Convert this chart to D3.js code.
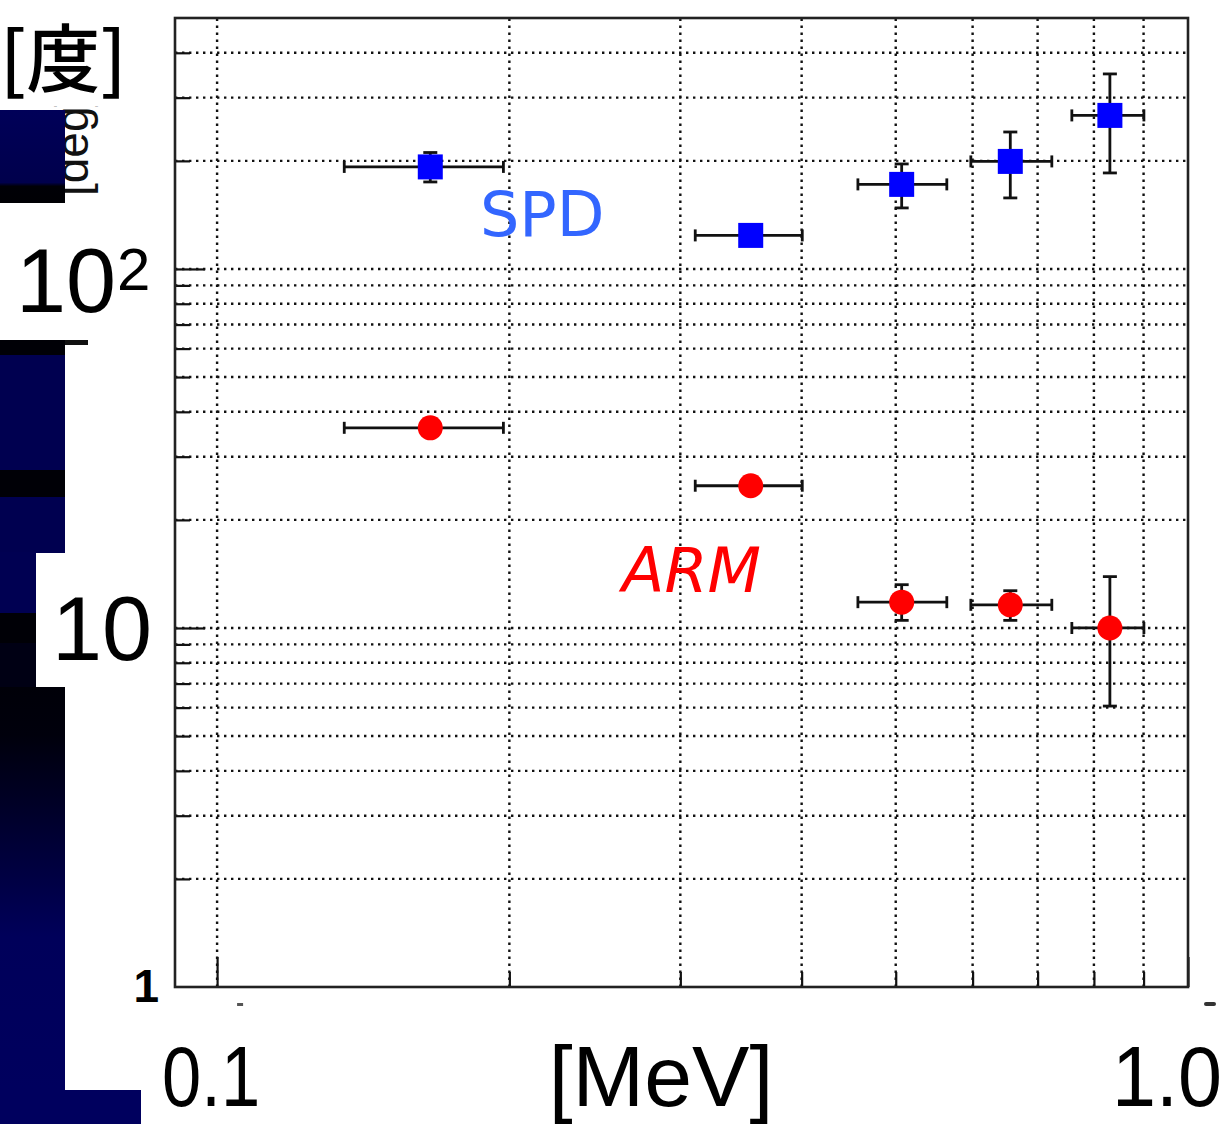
<!DOCTYPE html>
<html>
<head>
<meta charset="utf-8">
<script src="https://cdn.jsdelivr.net/npm/d3@7"></script>
<style>
  body { margin: 0; background: #fff; }
</style>
</head>
<body>
<div id="chart"></div>
<script>
// energy bins [MeV] shared by both series
const energy   = [0.1658, 0.3545, 0.5071, 0.6561, 0.8309];
const energyLo = [0.1352, 0.3108, 0.4571, 0.5975, 0.7592];
const energyHi = [0.1972, 0.4006, 0.5644, 0.7240, 0.9007];

// SPD [deg]
const spd   = [192.4, 124.0, 172.0, 199.3, 267.7];
const spdLo = [174.7, 124.0, 147.9, 157.7, 185.1];
const spdHi = [211.0, 124.0, 196.1, 240.7, 349.3];

// ARM [deg]
const arm   = [36.1, 24.9, 11.8, 11.6, 10.0];
const armLo = [36.1, 24.9, 10.5, 10.5, 6.06];
const armHi = [36.1, 24.9, 13.2, 12.7, 13.9];

const xTicks = [0.1, 0.2, 0.3, 0.4, 0.5, 0.6, 0.7, 0.8, 0.9, 1.0];
const xGrid = [0.1, 0.2, 0.3, 0.4, 0.5, 0.6, 0.7, 0.8, 0.9];
const yTicks = [2, 3, 4, 5, 6, 7, 8, 9, 10, 20, 30, 40, 50, 60, 70, 80, 90, 100, 200, 300, 400];
const yGrid = yTicks;

const W = 1224, H = 1124;
const frame = {left: 175, right: 1188, top: 18, bottom: 987};

const svg = d3.select("#chart").append("svg")
    .attr("width", W)
    .attr("height", H);

svg.append("rect").attr("width", W).attr("height", H).attr("fill", "#fff");

const x = d3.scaleLog()
    .domain([0.0905, 1.0])
    .range([frame.left, frame.right]);
const y = d3.scaleLog()
    .domain([1, 500])
    .range([frame.bottom, frame.top]);

const isMajor = d => Math.abs(Math.log10(d) - Math.round(Math.log10(d))) < 1e-6;

// dotted grid
const grid = svg.append("g")
    .attr("stroke", "#111")
    .attr("stroke-width", 2.4)
    .attr("stroke-dasharray", "2.4,4.6");
grid.selectAll(".gx").data(xGrid).join("line")
    .attr("x1", d => x(d)).attr("x2", d => x(d))
    .attr("y1", frame.bottom).attr("y2", frame.top);
grid.selectAll(".gy").data(yGrid).join("line")
    .attr("x1", frame.left).attr("x2", frame.right)
    .attr("y1", d => y(d)).attr("y2", d => y(d));

// ticks (inward), minor and major
function tickAxis(axis, values, size, transform) {
    const g = svg.append("g")
        .attr("transform", transform)
        .call(axis.tickValues(values).tickSize(-size).tickFormat(""));
    g.select(".domain").remove();
    g.selectAll(".tick line").attr("stroke", "#111").attr("stroke-width", 2.2);
}
tickAxis(d3.axisBottom(x), xTicks.filter(d => !isMajor(d)), 15, `translate(0,${frame.bottom})`);
tickAxis(d3.axisBottom(x), xTicks.filter(isMajor), 30, `translate(0,${frame.bottom})`);
tickAxis(d3.axisLeft(y), yTicks.filter(d => !isMajor(d)), 15, `translate(${frame.left},0)`);
tickAxis(d3.axisLeft(y), yTicks.filter(isMajor), 30, `translate(${frame.left},0)`);

// frame
svg.append("rect")
    .attr("x", frame.left).attr("y", frame.top)
    .attr("width", frame.right - frame.left)
    .attr("height", frame.bottom - frame.top)
    .attr("fill", "none")
    .attr("stroke", "#222")
    .attr("stroke-width", 2.6);

// error bars + markers
function series(vals, lo, hi, color, shape) {
    const data = energy.map((e, i) => ({e: e, elo: energyLo[i], ehi: energyHi[i], v: vals[i], lo: lo[i], hi: hi[i]}));
    const g = svg.append("g").attr("stroke", "#111").attr("stroke-width", 2.8);
    g.selectAll(".xe").data(data).join("line")
        .attr("x1", d => x(d.elo)).attr("x2", d => x(d.ehi))
        .attr("y1", d => y(d.v)).attr("y2", d => y(d.v));
    g.selectAll(".xc").data(data.flatMap(d => [{e: d.elo, v: d.v}, {e: d.ehi, v: d.v}])).join("line")
        .attr("x1", d => x(d.e)).attr("x2", d => x(d.e))
        .attr("y1", d => y(d.v) - 6).attr("y2", d => y(d.v) + 6);
    const ye = data.filter(d => d.hi > d.lo);
    g.selectAll(".ye").data(ye).join("line")
        .attr("x1", d => x(d.e)).attr("x2", d => x(d.e))
        .attr("y1", d => y(d.lo)).attr("y2", d => y(d.hi));
    g.selectAll(".yc").data(ye.flatMap(d => [{e: d.e, v: d.lo}, {e: d.e, v: d.hi}])).join("line")
        .attr("x1", d => x(d.e) - 7).attr("x2", d => x(d.e) + 7)
        .attr("y1", d => y(d.v)).attr("y2", d => y(d.v));

    if (shape == "square") {
        svg.append("g").selectAll("rect").data(data).join("rect")
            .attr("x", d => x(d.e) - 12.5).attr("y", d => y(d.v) - 12.5)
            .attr("width", 25).attr("height", 25)
            .attr("fill", color);
    } else {
        svg.append("g").selectAll("circle").data(data).join("circle")
            .attr("cx", d => x(d.e)).attr("cy", d => y(d.v))
            .attr("r", 12.5)
            .attr("fill", color);
    }
}
series(spd, spdLo, spdHi, "#0000ff", "square");
series(arm, armLo, armHi, "#ff0000", "circle");

// series labels
svg.append("text")
    .attr("x", 480).attr("y", 236)
    .attr("font-family", "DejaVu Sans").attr("font-size", 62)
    .attr("fill", "#3366ff")
    .text("SPD");
svg.append("text")
    .attr("x", 622).attr("y", 592)
    .attr("font-family", "DejaVu Sans").attr("font-size", 62)
    .attr("font-style", "italic")
    .attr("fill", "#ff0000")
    .text("ARM");

// leftover ROOT y title, mostly hidden
svg.append("text")
    .attr("transform", "translate(88,196) rotate(-90)")
    .attr("font-family", "Liberation Sans, Arial, sans-serif").attr("font-size", 46)
    .attr("fill", "#111")
    .text("[deg]");
svg.append("rect").attr("x", 0).attr("y", 0).attr("width", 170).attr("height", 106).attr("fill", "#fff");

// tiny remnants of the original x labels
svg.append("rect").attr("x", x(0.1) + 20).attr("y", 1003).attr("width", 6).attr("height", 3).attr("fill", "#555");
svg.append("rect").attr("x", x(1.0) + 16).attr("y", 1002).attr("width", 12).attr("height", 4).attr("rx", 2).attr("fill", "#333");

// big overlay labels
const font = "Liberation Sans, Arial, Helvetica, sans-serif";
svg.append("text")
    .attr("x", 0).attr("y", 86)
    .attr("font-family", "Noto Sans CJK JP").attr("font-size", 74).attr("font-weight", 500)
    .attr("fill", "#000")
    .text("[度]");

svg.append("text")
    .attr("x", 116).attr("y", y(100) + 43)
    .attr("text-anchor", "end")
    .attr("font-family", font).attr("font-size", 90)
    .text("10");
svg.append("text")
    .attr("x", 117).attr("y", y(100) + 21)
    .attr("font-family", font).attr("font-size", 60)
    .text("2");
svg.append("text")
    .attr("x", 152).attr("y", y(10) + 32)
    .attr("text-anchor", "end")
    .attr("font-family", font).attr("font-size", 90)
    .text("10");
svg.append("text")
    .attr("x", 159).attr("y", y(1) + 15)
    .attr("text-anchor", "end")
    .attr("font-family", font).attr("font-size", 46).attr("font-weight", "bold")
    .text("1");

function bottomLabel(cx, txt, sx) {
    svg.append("text")
        .attr("transform", `translate(${cx},1106) scale(${sx},1)`)
        .attr("text-anchor", "middle")
        .attr("font-family", font).attr("font-size", 86)
        .text(txt);
}
bottomLabel(x(0.1) - 6, "0.1", 0.82);
bottomLabel(661, "[MeV]", 1.0);
bottomLabel(x(1.0) - 21, "1.0", 0.92);

// slide background strips on the left
const defs = svg.append("defs");
const g1 = defs.append("linearGradient").attr("id", "fadeTop").attr("x1", 0).attr("y1", 0).attr("x2", 0).attr("y2", 1);
g1.append("stop").attr("offset", "0%").attr("stop-color", "#000058");
g1.append("stop").attr("offset", "78%").attr("stop-color", "#00004c");
g1.append("stop").attr("offset", "82%").attr("stop-color", "#000006");
g1.append("stop").attr("offset", "100%").attr("stop-color", "#000004");
const g2 = defs.append("linearGradient").attr("id", "fadeBottom").attr("x1", 0).attr("y1", 0).attr("x2", 0).attr("y2", 1);
g2.append("stop").attr("offset", "0%").attr("stop-color", "#000008");
g2.append("stop").attr("offset", "12%").attr("stop-color", "#00000c");
g2.append("stop").attr("offset", "62%").attr("stop-color", "#00005a");
g2.append("stop").attr("offset", "100%").attr("stop-color", "#00005e");

const strips = svg.append("g");
strips.append("rect").attr("x", 0).attr("y", 110).attr("width", 65).attr("height", 93).attr("fill", "url(#fadeTop)");
strips.append("rect").attr("x", 0).attr("y", 340).attr("width", 65).attr("height", 15).attr("fill", "#000006");
strips.append("rect").attr("x", 65).attr("y", 340).attr("width", 23).attr("height", 5).attr("fill", "#111");
strips.append("rect").attr("x", 0).attr("y", 355).attr("width", 65).attr("height", 115).attr("fill", "#000050");
strips.append("rect").attr("x", 0).attr("y", 470).attr("width", 65).attr("height", 27).attr("fill", "#000006");
strips.append("rect").attr("x", 0).attr("y", 497).attr("width", 65).attr("height", 56).attr("fill", "#000050");
strips.append("rect").attr("x", 0).attr("y", 552).attr("width", 36).attr("height", 61).attr("fill", "#000052");
strips.append("rect").attr("x", 0).attr("y", 613).attr("width", 36).attr("height", 30).attr("fill", "#000006");
strips.append("rect").attr("x", 0).attr("y", 643).attr("width", 36).attr("height", 44).attr("fill", "#000014");
strips.append("rect").attr("x", 0).attr("y", 687).attr("width", 65).attr("height", 403).attr("fill", "url(#fadeBottom)");
strips.append("rect").attr("x", 0).attr("y", 1090).attr("width", 141).attr("height", 34).attr("fill", "#00005e");
</script>
</body>
</html>
